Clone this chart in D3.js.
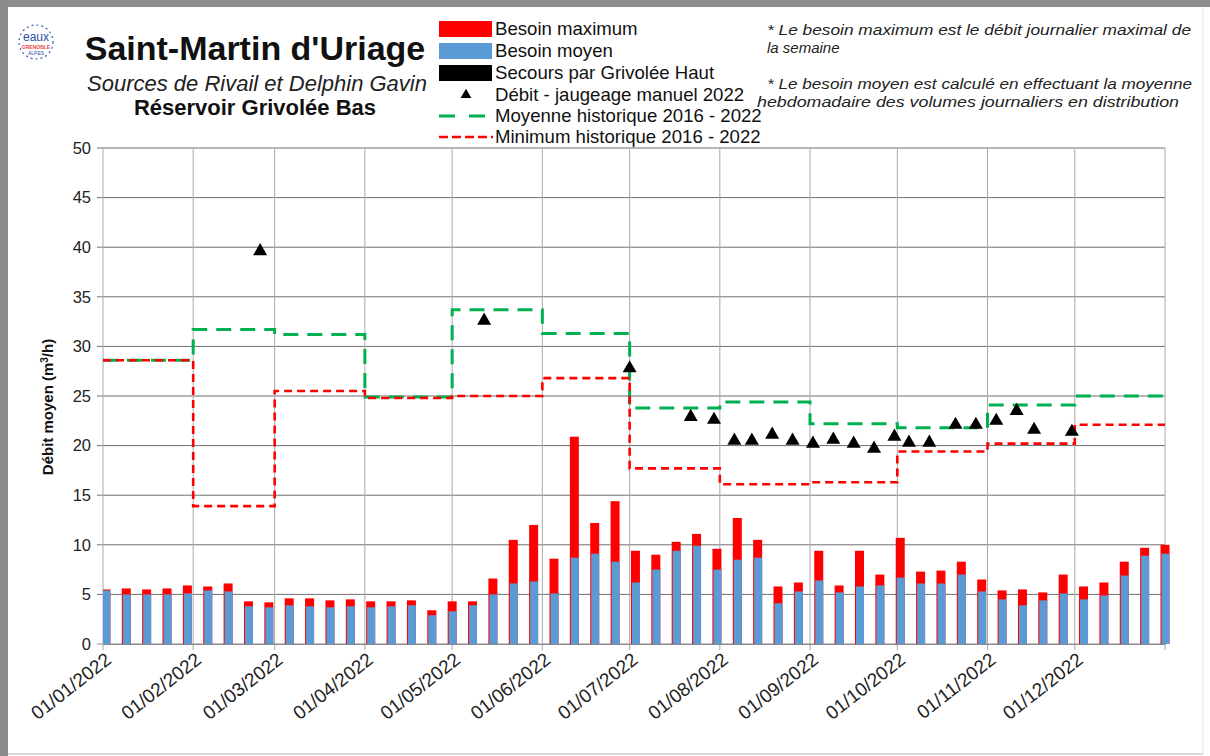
<!DOCTYPE html>
<html><head><meta charset="utf-8">
<script src="https://cdn.jsdelivr.net/npm/d3@7"></script>
<style>
html,body{margin:0;padding:0;background:#fff;}
text{font-family:"Liberation Sans",Arial,sans-serif;}
</style></head>
<body><svg id="c" width="1210" height="756"></svg>
<script>
// ---- data ----
const weekDates = ["2022-01-02","2022-01-09","2022-01-16","2022-01-23","2022-01-30","2022-02-06","2022-02-13","2022-02-20","2022-02-27","2022-03-06","2022-03-13","2022-03-20","2022-03-27","2022-04-03","2022-04-10","2022-04-17","2022-04-24","2022-05-01","2022-05-08","2022-05-15","2022-05-22","2022-05-29","2022-06-05","2022-06-12","2022-06-19","2022-06-26","2022-07-03","2022-07-10","2022-07-17","2022-07-24","2022-07-31","2022-08-07","2022-08-14","2022-08-21","2022-08-28","2022-09-04","2022-09-11","2022-09-18","2022-09-25","2022-10-02","2022-10-09","2022-10-16","2022-10-23","2022-10-30","2022-11-06","2022-11-13","2022-11-20","2022-11-27","2022-12-04","2022-12-11","2022-12-18","2022-12-25","2023-01-01"];
const besoinMax = [5.5,5.6,5.5,5.6,5.9,5.8,6.1,4.3,4.2,4.6,4.6,4.4,4.5,4.3,4.3,4.4,3.4,4.3,4.3,6.6,10.5,12.0,8.6,20.9,12.2,14.4,9.4,9.0,10.3,11.1,9.6,12.7,10.5,5.8,6.2,9.4,5.9,9.4,7.0,10.7,7.3,7.4,8.3,6.5,5.4,5.5,5.2,7.0,5.8,6.2,8.3,9.7,10.0];
const besoinMoyen = [5.4,5.0,5.0,5.0,5.1,5.4,5.3,3.8,3.7,3.9,3.8,3.7,3.8,3.7,3.8,3.9,2.9,3.3,3.9,5.0,6.1,6.3,5.1,8.7,9.1,8.3,6.2,7.5,9.4,9.9,7.5,8.5,8.7,4.1,5.3,6.4,5.2,5.8,5.9,6.7,6.1,6.1,7.0,5.3,4.5,3.9,4.4,5.1,4.5,4.9,6.9,8.9,9.1];
const monthStarts = ["2022-01-01","2022-02-01","2022-03-01","2022-04-01","2022-05-01","2022-06-01","2022-07-01","2022-08-01","2022-09-01","2022-10-01","2022-11-01","2022-12-01"];
const yearEnd = "2023-01-01";
const moyenneHist = [28.6,31.7,31.2,24.9,33.7,31.3,23.8,24.4,22.2,21.8,24.1,25.0];
const minimumHist = [28.6,13.9,25.5,24.8,25.0,26.8,17.7,16.1,16.3,19.4,20.2,22.1];
const jaugeDates = ["2022-02-24","2022-05-12","2022-07-01","2022-07-22","2022-07-30","2022-08-06","2022-08-12","2022-08-19","2022-08-26","2022-09-02","2022-09-09","2022-09-16","2022-09-23","2022-09-30","2022-10-05","2022-10-12","2022-10-21","2022-10-28","2022-11-04","2022-11-11","2022-11-17","2022-11-30"];
const jaugeValues = [39.7,32.7,27.9,23.0,22.7,20.6,20.6,21.2,20.6,20.3,20.7,20.3,19.8,21.0,20.4,20.4,22.2,22.2,22.6,23.6,21.7,21.5];
const yTicks = [0,5,10,15,20,25,30,35,40,45,50];
const legendLabels = ["Besoin maximum","Besoin moyen","Secours par Grivolée Haut","Débit - jaugeage manuel 2022","Moyenne historique 2016 - 2022","Minimum historique 2016 - 2022"];

// ---- chart ----
const parse = d3.timeParse("%Y-%m-%d");
const fmt = d3.timeFormat("%d/%m/%Y");
const svg = d3.select("#c");
const X0=103, X1=1165, Y0=148, Y1=644;
const x = d3.scaleTime().domain([parse("2022-01-01"), parse(yearEnd)]).range([X0,X1]);
const y = d3.scaleLinear().domain([0,50]).range([Y1,Y0]);

// frame
svg.append("rect").attr("x",0).attr("y",0).attr("width",1210).attr("height",756).attr("fill","#fff");
svg.append("rect").attr("x",0).attr("y",0).attr("width",1210).attr("height",7).attr("fill","#8c8c8c");
svg.append("rect").attr("x",0).attr("y",0).attr("width",8).attr("height",756).attr("fill","#8c8c8c");
svg.append("line").attr("x1",1203).attr("x2",1203).attr("y1",7).attr("y2",754).attr("stroke","#e2e2e2");
svg.append("line").attr("x1",8).attr("x2",1203).attr("y1",754).attr("y2",754).attr("stroke","#b5b5b5");

// logo
const logo = svg.append("g").attr("transform","translate(36,42)");
logo.append("circle").attr("r",17).attr("fill","none").attr("stroke","#3a5fb0").attr("stroke-width",1.2).attr("stroke-dasharray","2,3");
logo.append("text").attr("text-anchor","middle").attr("y",-1).attr("font-size",12).attr("fill","#2c4fa3").text("eaux");
logo.append("text").attr("text-anchor","middle").attr("y",7).attr("font-size",5).attr("font-weight","bold").attr("fill","#e8474a").text("GRENOBLE");
logo.append("text").attr("text-anchor","middle").attr("y",13).attr("font-size",5).attr("fill","#2c4fa3").text("ALPES");

// titles
svg.append("text").attr("x",255).attr("y",60).attr("text-anchor","middle").attr("font-size",34).attr("font-weight","bold").attr("fill","#111").text("Saint-Martin d'Uriage");
svg.append("text").attr("x",257).attr("y",91).attr("text-anchor","middle").attr("font-size",22).attr("font-style","italic").attr("fill","#222").text("Sources de Rivail et Delphin Gavin");
svg.append("text").attr("x",255).attr("y",115).attr("text-anchor","middle").attr("font-size",22).attr("font-weight","bold").attr("fill","#111").text("Réservoir Grivolée Bas");

// notes
const notes = [["* Le besoin maximum est le débit journalier maximal de",767,35,424],["la semaine",767,53,null],["* Le besoin moyen est calculé en effectuant la moyenne",767,89,425],["hebdomadaire des volumes journaliers en distribution",757,107,422]];
notes.forEach(n=>{
  const t = svg.append("text").attr("x",n[1]).attr("y",n[2]).attr("font-size",15).attr("font-style","italic").attr("fill","#222").text(n[0]);
  if(n[3]) t.attr("textLength",n[3]).attr("lengthAdjust","spacingAndGlyphs");
});

// gridlines
svg.append("g").selectAll("line").data(yTicks).join("line")
  .attr("x1",X0-6).attr("x2",X1).attr("y1",d=>y(d)).attr("y2",d=>y(d))
  .attr("stroke",d=>d===0?"#8a8a8a":"#6f6f6f").attr("stroke-width",1);
const monthDates = monthStarts.map(parse).concat([parse(yearEnd)]);
svg.append("g").selectAll("line").data(monthDates).join("line")
  .attr("x1",d=>x(d)).attr("x2",d=>x(d)).attr("y1",Y0).attr("y2",Y1+6)
  .attr("stroke","#a8a8a8").attr("stroke-width",1);

// y axis labels
const yAxis = d3.axisLeft(y).tickValues(yTicks).tickSize(0).tickPadding(12);
const gy = svg.append("g").attr("transform",`translate(${X0},0)`).call(yAxis);
gy.select(".domain").remove();
gy.selectAll("text").attr("font-size",16.5).attr("fill","#222").attr("font-family","Liberation Sans, Arial, sans-serif");

svg.append("text").attr("transform","translate(53,407) rotate(-90)").attr("text-anchor","middle")
  .attr("font-size",15).attr("font-weight","bold").attr("fill","#111")
  .html('Débit moyen (m<tspan dy="-5" font-size="10">3</tspan><tspan dy="5">/h)</tspan>');

// x axis
const xAxis = d3.axisBottom(x).tickValues(monthStarts.map(parse)).tickFormat(fmt).tickSize(0);
const gx = svg.append("g").attr("transform",`translate(0,${Y1})`).call(xAxis);
gx.select(".domain").attr("stroke","#8a8a8a");
gx.selectAll("text").attr("font-size",19).attr("fill","#222").attr("font-family","Liberation Sans, Arial, sans-serif")
  .attr("text-anchor","end").attr("dy",null).attr("y",null)
  .attr("transform","translate(9,18) rotate(-38)");

// bars
const clip = svg.append("clipPath").attr("id","pc").append("rect").attr("x",X0).attr("y",Y0-20).attr("width",X1-X0+6).attr("height",Y1-Y0+20);
const bars = svg.append("g").attr("clip-path","url(#pc)");
const bw = 9;
const wd = weekDates.map(parse);
bars.selectAll("rect.mx").data(wd).join("rect").attr("class","mx")
  .attr("x",(d)=>x(d)-bw/2).attr("width",bw)
  .attr("y",(d,i)=>y(besoinMax[i])).attr("height",(d,i)=>Y1-y(besoinMax[i])).attr("fill","#ff0000");
bars.selectAll("rect.mo").data(wd).join("rect").attr("class","mo")
  .attr("x",(d)=>x(d)-bw/2+1).attr("width",bw-1)
  .attr("y",(d,i)=>y(besoinMoyen[i])).attr("height",(d,i)=>Y1-y(besoinMoyen[i])).attr("fill","#5b9bd5");

// step lines
const stepLine = d3.line().x(d=>x(d[0])).y(d=>y(d[1])).curve(d3.curveStepAfter);
const stepPts = vals => monthStarts.map((m,i)=>[parse(m),vals[i]]).concat([[parse(yearEnd),vals[vals.length-1]]]);
svg.append("path").attr("d",stepLine(stepPts(moyenneHist))).attr("fill","none")
  .attr("stroke","#00b050").attr("stroke-width",3).attr("stroke-dasharray","15,9");
svg.append("path").attr("d",stepLine(stepPts(minimumHist))).attr("fill","none")
  .attr("stroke","#ff0000").attr("stroke-width",2.6).attr("stroke-dasharray","8,5");

// triangles
const tri = d3.symbol(d3.symbolTriangle, 85);
svg.append("g").selectAll("path").data(jaugeDates).join("path")
  .attr("d",tri).attr("transform",(d,i)=>`translate(${x(parse(d))},${y(jaugeValues[i])+1})`).attr("fill","#000");

// legend
const lg = svg.append("g");
const rowY = [29,51,73,95,116,137];
lg.append("rect").attr("x",439).attr("y",rowY[0]-8).attr("width",53).attr("height",16).attr("fill","#ff0000");
lg.append("rect").attr("x",439).attr("y",rowY[1]-8).attr("width",53).attr("height",16).attr("fill","#5b9bd5");
lg.append("rect").attr("x",439).attr("y",rowY[2]-8).attr("width",53).attr("height",16).attr("fill","#000");
lg.append("path").attr("d",d3.symbol(d3.symbolTriangle,50)).attr("transform",`translate(466,${rowY[3]})`).attr("fill","#000");
lg.append("line").attr("x1",439).attr("x2",493).attr("y1",rowY[4]).attr("y2",rowY[4]).attr("stroke","#00b050").attr("stroke-width",3).attr("stroke-dasharray","16,14");
lg.append("line").attr("x1",439).attr("x2",493).attr("y1",rowY[5]).attr("y2",rowY[5]).attr("stroke","#ff0000").attr("stroke-width",2.6).attr("stroke-dasharray","9,4");
lg.selectAll("text").data(legendLabels).join("text")
  .attr("x",495).attr("y",(d,i)=>rowY[i]+6).attr("font-size",18.6).attr("fill","#111").text(d=>d);
</script></body></html>
